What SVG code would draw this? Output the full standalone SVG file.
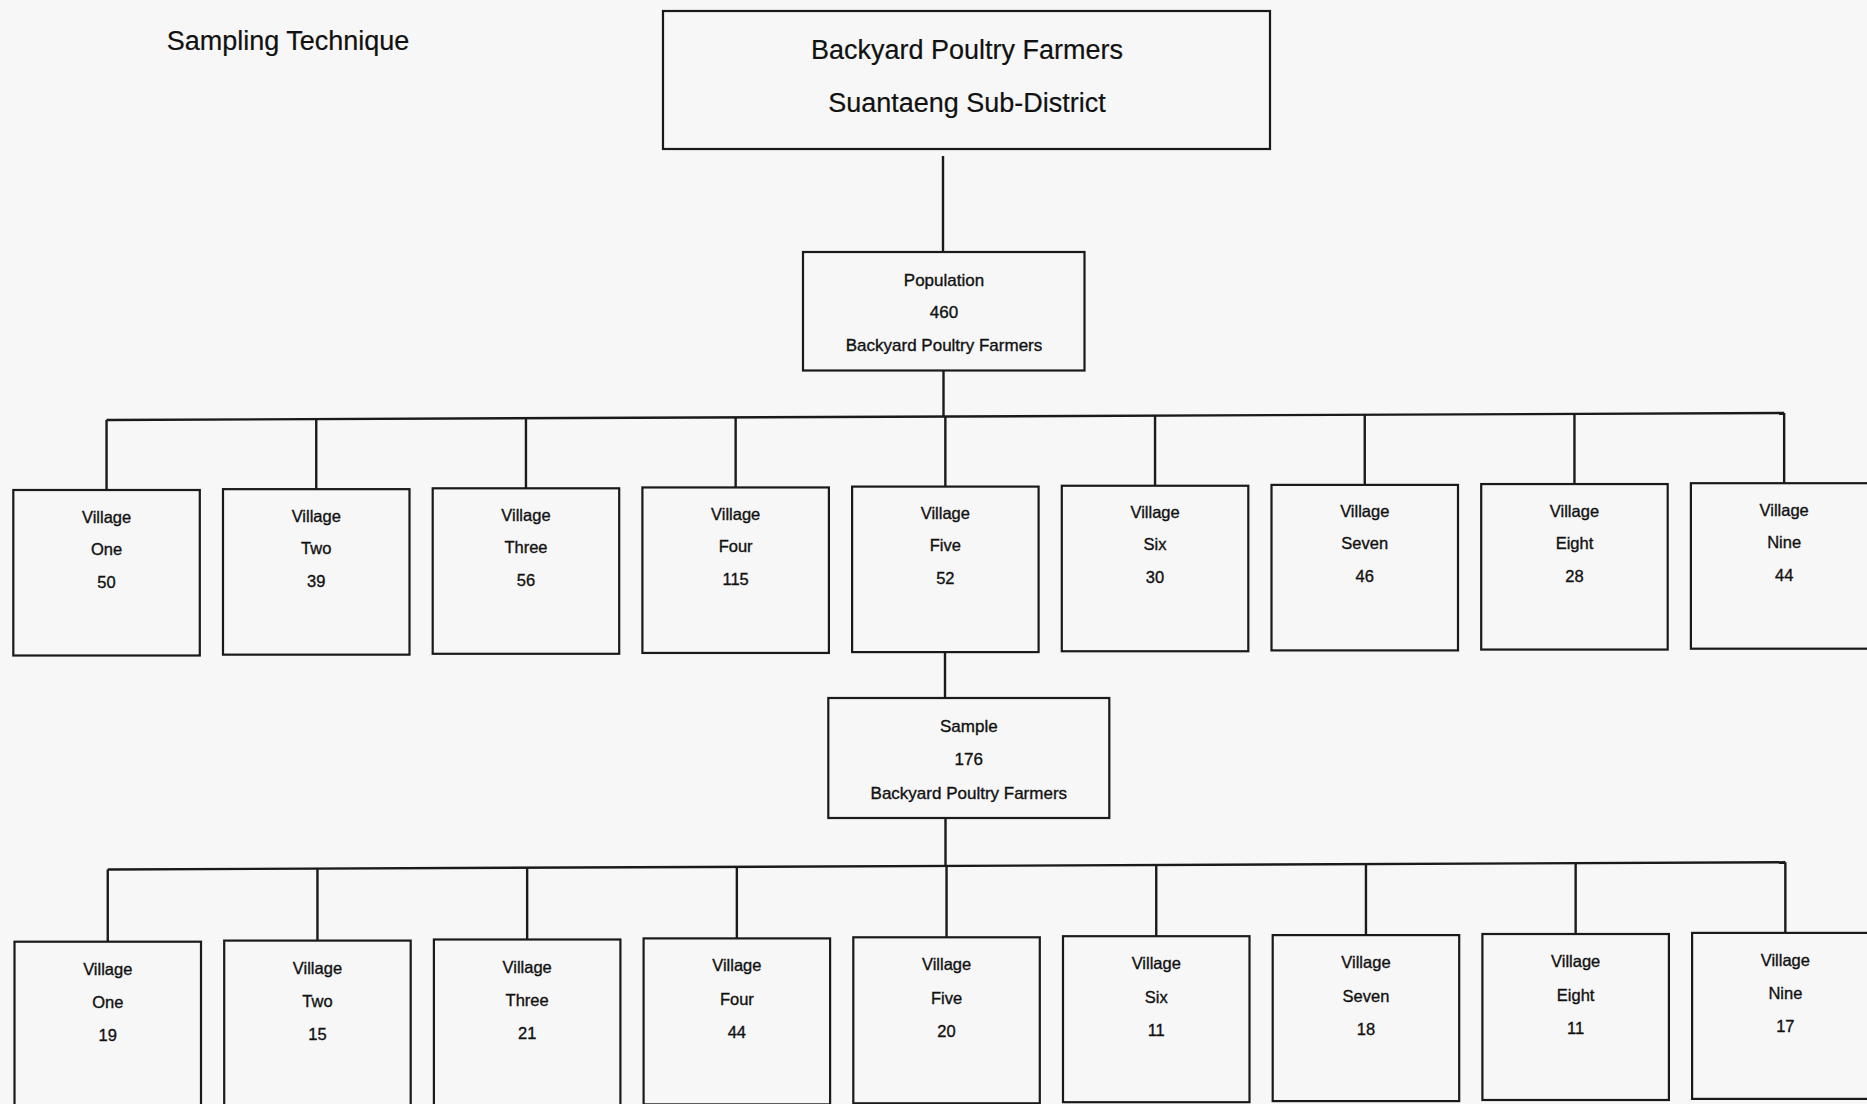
<svg xmlns="http://www.w3.org/2000/svg" width="1867" height="1104" viewBox="0 0 1867 1104">
<style>
.bx{fill:none;stroke:#1a1a1a;stroke-width:2.2}
.cn{fill:none;stroke:#1a1a1a;stroke-width:2.4}
text{font-family:"Liberation Sans",Arial,sans-serif;fill:#111;text-anchor:middle}
.big{font-size:27px;stroke:#111;stroke-width:0.2}
.mid{font-size:17px;stroke:#111;stroke-width:0.35}
.v{font-size:16.5px;stroke:#111;stroke-width:0.35}
</style>
<rect x="0" y="0" width="1867" height="1104" fill="#f7f7f7"/>
<text x="288" y="50" class="big">Sampling Technique</text>

<g id="connectors">
<line class="cn" x1="943" y1="156" x2="943" y2="252"/>
<line class="cn" x1="943.5" y1="370.5" x2="943.5" y2="416.5"/>
<line class="cn" x1="106.5" y1="420" x2="1784.2" y2="413"/>
<line class="cn" x1="106.55" y1="420" x2="106.55" y2="490"/>
<line class="cn" x1="316.25" y1="419.1" x2="316.25" y2="489.15"/>
<line class="cn" x1="525.95" y1="418.25" x2="525.95" y2="488.3"/>
<line class="cn" x1="735.65" y1="417.4" x2="735.65" y2="487.45"/>
<line class="cn" x1="945.35" y1="416.5" x2="945.35" y2="486.6"/>
<line class="cn" x1="1155.05" y1="415.6" x2="1155.05" y2="485.75"/>
<line class="cn" x1="1364.75" y1="414.75" x2="1364.75" y2="484.9"/>
<line class="cn" x1="1574.45" y1="413.9" x2="1574.45" y2="484.05"/>
<line class="cn" x1="1784.15" y1="413" x2="1784.15" y2="483.2"/>
<line class="cn" x1="945" y1="652.1" x2="945" y2="698"/>
<line class="cn" x1="945.5" y1="818" x2="945.5" y2="865.9"/>
<line class="cn" x1="107.75" y1="869.5" x2="1785.35" y2="862.3"/>
<line class="cn" x1="107.75" y1="869.5" x2="107.75" y2="941.7"/>
<line class="cn" x1="317.45" y1="868.6" x2="317.45" y2="940.6"/>
<line class="cn" x1="527.15" y1="867.7" x2="527.15" y2="939.5"/>
<line class="cn" x1="736.85" y1="866.8" x2="736.85" y2="938.4"/>
<line class="cn" x1="946.55" y1="865.9" x2="946.55" y2="937.3"/>
<line class="cn" x1="1156.25" y1="865" x2="1156.25" y2="936.2"/>
<line class="cn" x1="1365.95" y1="864.1" x2="1365.95" y2="935.1"/>
<line class="cn" x1="1575.65" y1="863.2" x2="1575.65" y2="934"/>
<line class="cn" x1="1785.35" y1="862.3" x2="1785.35" y2="932.9"/>
</g>

<g id="top">
<rect class="bx" x="663" y="11" width="607" height="138"/>
<text x="967" y="59" class="big">Backyard Poultry Farmers</text>
<text x="967" y="111.5" class="big">Suantaeng Sub-District</text>
</g>

<g id="population">
<rect class="bx" x="803" y="252" width="281.5" height="118.5"/>
<text x="944" y="286" class="mid">Population</text>
<text x="944" y="318" class="mid">460</text>
<text x="944" y="351" class="mid">Backyard Poultry Farmers</text>
</g>

<g id="pv1"><rect class="bx" x="13.3" y="490" width="186.5" height="165.5"/><text x="106.55" y="522.5" class="v">Village</text><text x="106.55" y="554.5" class="v">One</text><text x="106.55" y="587.5" class="v">50</text></g>
<g id="pv2"><rect class="bx" x="223" y="489.15" width="186.5" height="165.5"/><text x="316.25" y="521.65" class="v">Village</text><text x="316.25" y="553.65" class="v">Two</text><text x="316.25" y="586.65" class="v">39</text></g>
<g id="pv3"><rect class="bx" x="432.7" y="488.3" width="186.5" height="165.5"/><text x="525.95" y="520.8" class="v">Village</text><text x="525.95" y="552.8" class="v">Three</text><text x="525.95" y="585.8" class="v">56</text></g>
<g id="pv4"><rect class="bx" x="642.4" y="487.45" width="186.5" height="165.5"/><text x="735.65" y="519.95" class="v">Village</text><text x="735.65" y="551.95" class="v">Four</text><text x="735.65" y="584.95" class="v">115</text></g>
<g id="pv5"><rect class="bx" x="852.1" y="486.6" width="186.5" height="165.5"/><text x="945.35" y="519.1" class="v">Village</text><text x="945.35" y="551.1" class="v">Five</text><text x="945.35" y="584.1" class="v">52</text></g>
<g id="pv6"><rect class="bx" x="1061.8" y="485.75" width="186.5" height="165.5"/><text x="1155.05" y="518.25" class="v">Village</text><text x="1155.05" y="550.25" class="v">Six</text><text x="1155.05" y="583.25" class="v">30</text></g>
<g id="pv7"><rect class="bx" x="1271.5" y="484.9" width="186.5" height="165.5"/><text x="1364.75" y="517.4" class="v">Village</text><text x="1364.75" y="549.4" class="v">Seven</text><text x="1364.75" y="582.4" class="v">46</text></g>
<g id="pv8"><rect class="bx" x="1481.2" y="484.05" width="186.5" height="165.5"/><text x="1574.45" y="516.55" class="v">Village</text><text x="1574.45" y="548.55" class="v">Eight</text><text x="1574.45" y="581.55" class="v">28</text></g>
<g id="pv9"><rect class="bx" x="1690.9" y="483.2" width="186.5" height="165.5"/><text x="1784.15" y="515.7" class="v">Village</text><text x="1784.15" y="547.7" class="v">Nine</text><text x="1784.15" y="580.7" class="v">44</text></g>

<g id="sample">
<rect class="bx" x="828.3" y="698" width="281" height="120"/>
<text x="968.8" y="732" class="mid">Sample</text>
<text x="968.8" y="764.5" class="mid">176</text>
<text x="968.8" y="798.5" class="mid">Backyard Poultry Farmers</text>
</g>

<g id="sv1"><rect class="bx" x="14.5" y="941.7" width="186.5" height="166"/><text x="107.75" y="974.7" class="v">Village</text><text x="107.75" y="1008.2" class="v">One</text><text x="107.75" y="1041.2" class="v">19</text></g>
<g id="sv2"><rect class="bx" x="224.2" y="940.6" width="186.5" height="166"/><text x="317.45" y="973.6" class="v">Village</text><text x="317.45" y="1007.1" class="v">Two</text><text x="317.45" y="1040.1" class="v">15</text></g>
<g id="sv3"><rect class="bx" x="433.9" y="939.5" width="186.5" height="166"/><text x="527.15" y="972.5" class="v">Village</text><text x="527.15" y="1006" class="v">Three</text><text x="527.15" y="1039" class="v">21</text></g>
<g id="sv4"><rect class="bx" x="643.6" y="938.4" width="186.5" height="166"/><text x="736.85" y="971.4" class="v">Village</text><text x="736.85" y="1004.9" class="v">Four</text><text x="736.85" y="1037.9" class="v">44</text></g>
<g id="sv5"><rect class="bx" x="853.3" y="937.3" width="186.5" height="166"/><text x="946.55" y="970.3" class="v">Village</text><text x="946.55" y="1003.8" class="v">Five</text><text x="946.55" y="1036.8" class="v">20</text></g>
<g id="sv6"><rect class="bx" x="1063" y="936.2" width="186.5" height="166"/><text x="1156.25" y="969.2" class="v">Village</text><text x="1156.25" y="1002.7" class="v">Six</text><text x="1156.25" y="1035.7" class="v">11</text></g>
<g id="sv7"><rect class="bx" x="1272.7" y="935.1" width="186.5" height="166"/><text x="1365.95" y="968.1" class="v">Village</text><text x="1365.95" y="1001.6" class="v">Seven</text><text x="1365.95" y="1034.6" class="v">18</text></g>
<g id="sv8"><rect class="bx" x="1482.4" y="934" width="186.5" height="166"/><text x="1575.65" y="967" class="v">Village</text><text x="1575.65" y="1000.5" class="v">Eight</text><text x="1575.65" y="1033.5" class="v">11</text></g>
<g id="sv9"><rect class="bx" x="1692.1" y="932.9" width="186.5" height="166"/><text x="1785.35" y="965.9" class="v">Village</text><text x="1785.35" y="999.4" class="v">Nine</text><text x="1785.35" y="1032.4" class="v">17</text></g>
</svg>
